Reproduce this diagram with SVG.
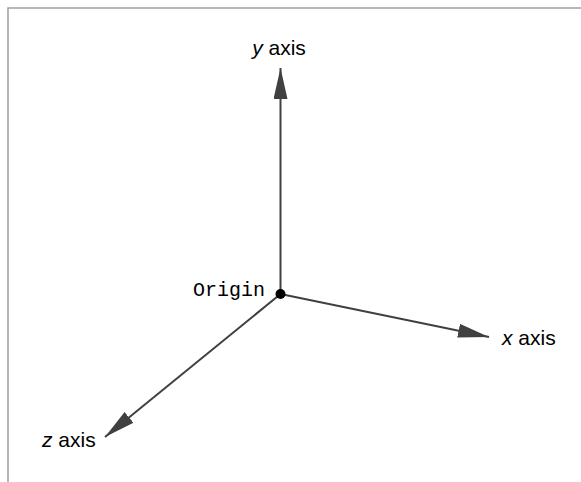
<svg xmlns="http://www.w3.org/2000/svg" width="581" height="482" viewBox="0 0 581 482">
  <style>
    .frame { fill: none; stroke: #a0a0a0; stroke-width: 1.5; }
    .axis { stroke: #404040; stroke-width: 2; fill: none; }
    .label { font-family: "Liberation Sans", Arial, sans-serif; font-size: 21px; fill: #000; }
    .mono { font-family: "Liberation Mono", "Courier New", monospace; font-size: 20px; fill: #000; }
  </style>
  <defs>
    <marker id="head" markerUnits="userSpaceOnUse" markerWidth="32" markerHeight="16" refX="31" refY="7" orient="auto">
      <path d="M0,0 L31,7 L0,14 Z" fill="#404040"/>
    </marker>
  </defs>
  <rect width="581" height="482" fill="#fff"/>
  <!-- frame: top and left edges only -->
  <path class="frame" d="M8,482 V8 H581"/>

  <g id="connectors">
    <line class="axis" x1="280.5" y1="294" x2="280.5" y2="68" marker-end="url(#head)"/>
    <line class="axis" x1="280.5" y1="294" x2="489" y2="337" marker-end="url(#head)"/>
    <line class="axis" x1="280.5" y1="294" x2="105" y2="437" marker-end="url(#head)"/>
  </g>

  <g id="origin">
    <circle cx="280.5" cy="294" r="5" fill="#000"/>
    <text class="mono" x="265" y="296" text-anchor="end">Origin</text>
  </g>
  <g id="y-axis">
    <text class="label" x="279" y="55" text-anchor="middle"><tspan font-style="italic">y</tspan> axis</text>
  </g>
  <g id="x-axis">
    <text class="label" x="502" y="345"><tspan font-style="italic">x</tspan> axis</text>
  </g>
  <g id="z-axis">
    <text class="label" x="42" y="447"><tspan font-style="italic">z</tspan> axis</text>
  </g>
</svg>
